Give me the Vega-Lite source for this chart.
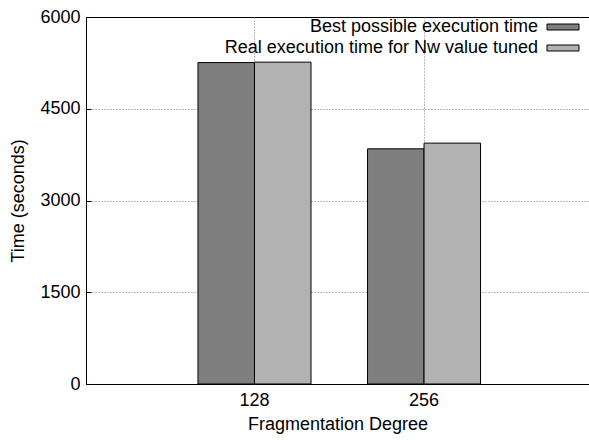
{
  "$schema": "https://vega.github.io/schema/vega-lite/v6.json",
  "width": 503,
  "height": 367,
  "autosize": {"type": "none"},
  "padding": {"left": 86, "top": 17, "right": 0, "bottom": 56},
  "background": "white",
  "config": {
    "font": "Liberation Sans",
    "view": {"stroke": "#000", "strokeWidth": 1}
  },
  "data": {
    "values": [
      {"degree": "128", "series": "Best possible execution time", "time": 5255},
      {"degree": "128", "series": "Real execution time for Nw value tuned", "time": 5262},
      {"degree": "256", "series": "Best possible execution time", "time": 3845},
      {"degree": "256", "series": "Real execution time for Nw value tuned", "time": 3938}
    ]
  },
  "mark": {"type": "bar", "stroke": "#000", "strokeWidth": 1, "strokeOpacity": 1, "fillOpacity": 1},
  "encoding": {
    "x": {
      "field": "degree",
      "type": "nominal",
      "sort": ["128", "256"],
      "scale": {"paddingInner": 0.3333, "paddingOuter": 0.65, "align": 0.508},
      "axis": {
        "title": "Fragmentation Degree",
        "titleFont": "Liberation Sans",
        "titleFontSize": 18,
        "titleFontWeight": "normal",
        "titleColor": "#000",
        "titlePadding": 6,
        "labelFont": "Liberation Sans",
        "labelFontSize": 18,
        "labelColor": "#000",
        "labelAngle": 0,
        "labelPadding": 7,
        "ticks": false,
        "domain": false,
        "grid": true,
        "bandPosition": 0.5,
        "gridColor": "#777",
        "gridDash": [1, 2],
        "gridWidth": 1,
        "gridOpacity": 1
      }
    },
    "xOffset": {
      "field": "series",
      "type": "nominal",
      "scale": {"paddingInner": 0, "paddingOuter": 0}
    },
    "y": {
      "field": "time",
      "type": "quantitative",
      "scale": {"domain": [0, 6000], "nice": false, "zero": true},
      "axis": {
        "title": "Time (seconds)",
        "titleFont": "Liberation Sans",
        "titleFontSize": 18,
        "titleFontWeight": "normal",
        "titleColor": "#000",
        "titlePadding": 12,
        "values": [0, 1500, 3000, 4500, 6000],
        "format": "d",
        "labelFont": "Liberation Sans",
        "labelFontSize": 18,
        "labelColor": "#000",
        "labelPadding": 11,
        "tickSize": -5,
        "tickColor": "#000",
        "domain": false,
        "grid": true,
        "gridColor": "#777",
        "gridDash": [1, 2],
        "gridWidth": 1,
        "gridOpacity": {"condition": {"test": "datum.value === 0 || datum.value === 6000", "value": 0}, "value": 1}
      }
    },
    "color": {
      "field": "series",
      "type": "nominal",
      "scale": {"range": ["#7f7f7f", "#b2b2b2"]},
      "legend": {
        "title": null,
        "orient": "none",
        "legendX": 468,
        "legendY": 1,
        "padding": 0,
        "rowPadding": 3,
        "symbolType": "M-2,-0.375H2V0.375H-2Z",
        "symbolSize": 256,
        "symbolStrokeColor": "#000",
        "symbolStrokeWidth": 1,
        "symbolOpacity": 1,
        "labelAlign": "right",
        "labelOffset": -34,
        "labelFont": "Liberation Sans",
        "labelFontSize": 18,
        "labelColor": "#000",
        "labelLimit": 0
      }
    }
  }
}
